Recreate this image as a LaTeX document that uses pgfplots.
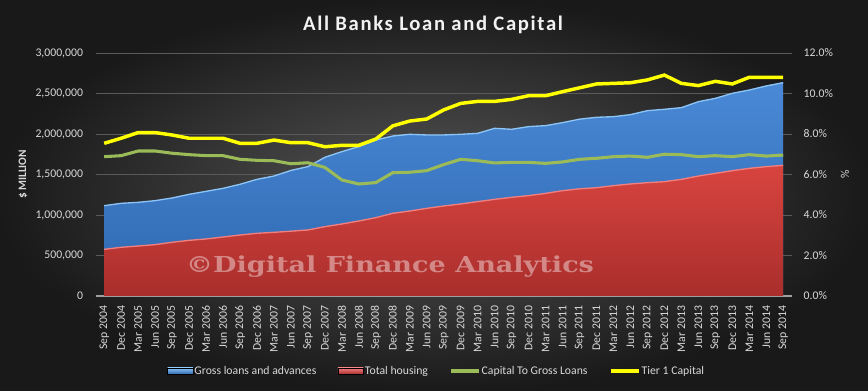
\documentclass[border=0pt]{standalone}
\usepackage{pgfplots}
\usepackage{pgfplotstable}
\pgfplotsset{compat=1.18}
\usepackage{fontspec}
\setmainfont{Carlito}
\newfontfamily\titlefont[LetterSpace=8]{Carlito}
\newfontfamily\wmfont{DejaVu Serif}
\definecolor{ticktxt}{HTML}{D9D9D9}
\definecolor{gridc}{HTML}{5A5A5A}
\definecolor{bluetop}{HTML}{4A89D6}
\definecolor{bluebot}{HTML}{2E67B0}
\definecolor{blueedge}{HTML}{8CC4F5}
\definecolor{redtop}{HTML}{D8443F}
\definecolor{redbot}{HTML}{A92E2C}
\definecolor{rededge}{HTML}{F08080}
\definecolor{greenl}{HTML}{9BBB59}
\definecolor{yellowl}{HTML}{FFFF00}
\pgfplotsset{
  lineleg/.style={legend image code/.code={\draw[##1] (0pt,0pt) -- (21pt,0pt);}},
  blueleg/.style={legend image code/.code={\shade[top color=blueedge,bottom color=bluebot] (0pt,-2.4pt) rectangle (19pt,2.4pt);}},
  redleg/.style={legend image code/.code={\shade[top color=rededge,bottom color=redbot] (0pt,-2.4pt) rectangle (19pt,2.4pt);}},
}
\pgfplotstableread[col sep=comma]{
i,label,gross,housing,capital,tier1
0,Sep 2004,1115000,576000,6.88,7.54
1,Dec 2004,1144000,601000,6.93,7.79
2,Mar 2005,1156000,617000,7.16,8.07
3,Jun 2005,1177000,634000,7.16,8.07
4,Sep 2005,1210000,663000,7.05,7.95
5,Dec 2005,1255000,687000,6.98,7.79
6,Mar 2006,1292000,704000,6.93,7.79
7,Jun 2006,1329000,728000,6.93,7.79
8,Sep 2006,1379000,753000,6.75,7.54
9,Dec 2006,1440000,774000,6.70,7.54
10,Mar 2007,1481000,786000,6.68,7.70
11,Jun 2007,1550000,800000,6.53,7.57
12,Sep 2007,1597000,815000,6.58,7.57
13,Dec 2007,1712000,856000,6.35,7.37
14,Mar 2008,1782000,889000,5.73,7.44
15,Jun 2008,1844000,926000,5.53,7.44
16,Sep 2008,1926000,967000,5.60,7.75
17,Dec 2008,1975000,1021000,6.09,8.40
18,Mar 2009,1996000,1049000,6.11,8.64
19,Jun 2009,1988000,1082000,6.19,8.74
20,Sep 2009,1988000,1111000,6.49,9.19
21,Dec 2009,1996000,1136000,6.75,9.51
22,Mar 2010,2008000,1165000,6.68,9.61
23,Jun 2010,2070000,1193000,6.57,9.61
24,Sep 2010,2058000,1218000,6.60,9.71
25,Dec 2010,2091000,1239000,6.60,9.89
26,Mar 2011,2103000,1267000,6.55,9.89
27,Jun 2011,2140000,1300000,6.62,10.09
28,Sep 2011,2183000,1323000,6.75,10.28
29,Dec 2011,2206000,1337000,6.80,10.47
30,Mar 2012,2214000,1362000,6.88,10.50
31,Jun 2012,2239000,1383000,6.91,10.53
32,Sep 2012,2288000,1399000,6.85,10.67
33,Dec 2012,2305000,1411000,7.00,10.91
34,Mar 2013,2325000,1440000,6.98,10.50
35,Jun 2013,2399000,1481000,6.88,10.39
36,Sep 2013,2440000,1514000,6.93,10.60
37,Dec 2013,2502000,1547000,6.88,10.47
38,Mar 2014,2543000,1576000,6.98,10.80
39,Jun 2014,2593000,1597000,6.91,10.80
40,Sep 2014,2634000,1613000,6.96,10.80
}\data
\begin{document}
\begin{tikzpicture}
\shade[inner color=black!66, outer color=black!90] (0pt,0pt) rectangle (651pt,293.25pt);
\path[use as bounding box] (0pt,0pt) rectangle (651pt,293.25pt);
\node[text=white!95!black, font=\titlefont\bfseries\fontsize{15.5}{18}\selectfont] at (324.75pt,274.5pt) {All Banks Loan and Capital};
\begin{axis}[
  at={(71.775pt,71.25pt)}, anchor=south west,
  scale only axis, width=522pt, height=182.25pt,
  xmin=-0.5, xmax=40.5, ymin=0, ymax=3000000,
  axis x line*=bottom, axis y line*=left,
  axis line style={-},
  x axis line style={draw=gray!75, line width=0.8pt},
  y axis line style={draw=none},
  ytick={0,500000,1000000,1500000,2000000,2500000,3000000},
  ymajorgrids, major grid style={draw=gridc, line width=0.6pt},
  major tick length=0pt, tick style={draw=none},
  scaled y ticks=false,
  yticklabel style={text=ticktxt, font=\fontsize{8.8}{10}\selectfont, xshift=-6pt,
    /pgf/number format/fixed, /pgf/number format/precision=0,
    /pgf/number format/1000 sep={,}, /pgf/number format/assume math mode=true},
  xtick={0,...,40},
  xticklabels from table={\data}{label},
  xticklabel style={yshift=-4pt, rotate=90, anchor=east, text=ticktxt, font=\fontsize{8.8}{10}\selectfont},
  ylabel={\bfseries \$ MILLION},
  ylabel style={at={(axis description cs:-0.1045,0.5)}, anchor=center, text=ticktxt, font=\fontsize{8.5}{10}\selectfont},
]
\addplot[draw=none, top color=bluetop, bottom color=bluebot] table[x=i,y=gross]{\data} \closedcycle;
\addplot[draw=blueedge, line width=1pt] table[x=i,y=gross]{\data};
\addplot[draw=none, top color=redtop, bottom color=redbot] table[x=i,y=housing]{\data} \closedcycle;
\addplot[draw=rededge, line width=1pt] table[x=i,y=housing]{\data};
\end{axis}
\node[text=white, opacity=0.42, font=\wmfont\bfseries\fontsize{16.5}{18}\selectfont] at (292.5pt,93pt) {\scalebox{1.23}[1]{©Digital Finance Analytics}};
\begin{axis}[
  at={(71.775pt,71.25pt)}, anchor=south west,
  scale only axis, width=522pt, height=182.25pt,
  xmin=-0.5, xmax=40.5, ymin=0, ymax=12,
  axis x line=none, axis y line*=right,
  y axis line style={draw=none},
  ytick={0,2,...,12},
  major tick length=0pt, tick style={draw=none},
  yticklabel={\pgfmathprintnumber[fixed,fixed zerofill,precision=1,assume math mode=true]{\tick}\%},
  yticklabel style={text=ticktxt, font=\fontsize{8.8}{10}\selectfont, xshift=5.5pt},
  ylabel={\%},
  ylabel style={at={(axis description cs:1.0766,0.5)}, anchor=center, text=ticktxt, font=\fontsize{8.8}{10}\selectfont},
  legend columns=4,
  legend style={at={(0.4904,-0.3086)}, anchor=center, draw=none, fill=none, text=ticktxt,
    font=\fontsize{8.8}{10}\selectfont,
    /tikz/every odd column/.append style={column sep=-1pt},
    /tikz/every even column/.append style={column sep=14pt}},
]
\addlegendimage{blueleg}
\addlegendentry{Gross loans and advances}
\addlegendimage{redleg}
\addlegendentry{Total housing}
\addplot[greenl, line width=2.3pt, lineleg] table[x=i,y=capital]{\data};
\addlegendentry{Capital To Gross Loans}
\addplot[yellowl, line width=2.6pt, lineleg] table[x=i,y=tier1]{\data};
\addlegendentry{Tier 1 Capital}
\end{axis}
\end{tikzpicture}
\end{document}
